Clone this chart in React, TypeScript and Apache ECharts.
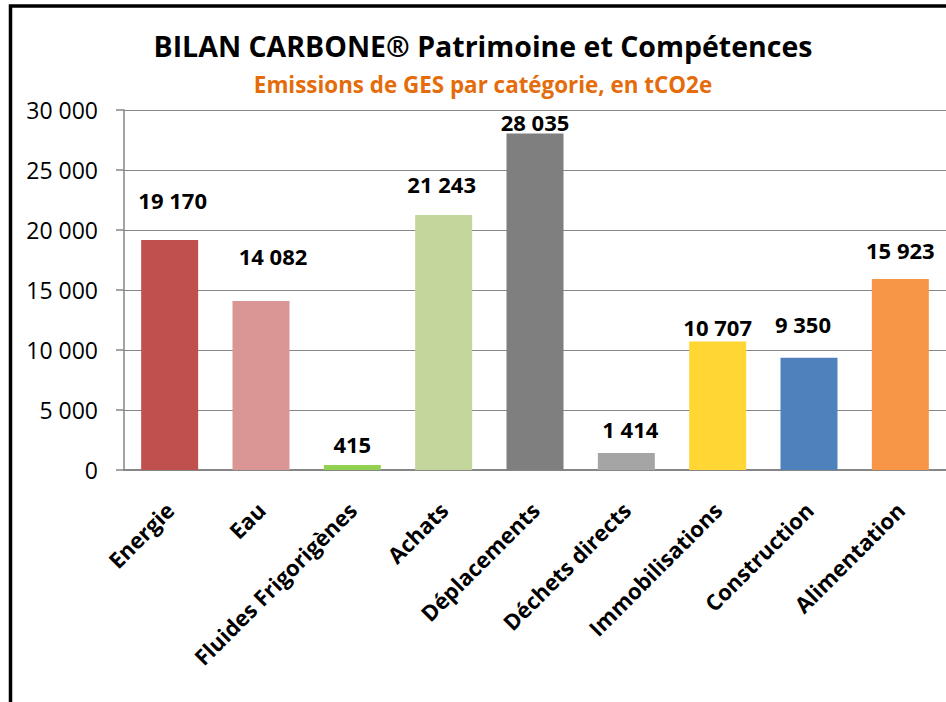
import React, { useEffect, useRef } from "react";
import * as echarts from "echarts";

const categories = [
  "Energie",
  "Eau",
  "Fluides Frigorigènes",
  "Achats",
  "Déplacements",
  "Déchets directs",
  "Immobilisations",
  "Construction",
  "Alimentation",
];
const values = [19170, 14082, 415, 21243, 28035, 1414, 10707, 9350, 15923];
const barColors = [
  "#C0504D",
  "#D99694",
  "#92D050",
  "#C3D69B",
  "#7F7F7F",
  "#A5A5A5",
  "#FFD633",
  "#4F81BD",
  "#F79646",
];
// manual label placement (as positioned in the original chart)
const labelOffsets: [number, number][] = [
  [3, -29],
  [12, -34],
  [0, -10],
  [-2, -20],
  [0, -1],
  [4, -13],
  [0, -4],
  [-6, -23],
  [0, -18],
];

const titleText = "BILAN CARBONE® Patrimoine et Compétences";
const subtitleText = "Emissions de GES par catégorie, en tCO2e";

const fmt = (v: number) =>
  String(Math.round(v)).replace(/\B(?=(\d{3})+(?!\d))/g, " ");

export default function App() {
  const ref = useRef<HTMLDivElement>(null);
  useEffect(() => {
    document.body.style.margin = "0";
    const chart = echarts.init(ref.current!, null, { renderer: "svg" });
    const font = "'Open Sans', sans-serif";
    chart.setOption({
      animation: false,
      backgroundColor: "#ffffff",
      textStyle: { fontFamily: font },
      title: [
        {
          text: titleText,
          left: 478,
          top: 26,
          textAlign: "center",
          textStyle: {
            fontFamily: font,
            fontWeight: "bold",
            fontSize: 28.5,
            color: "#000000",
          },
        },
        {
          text: subtitleText,
          left: 478,
          top: 68,
          textAlign: "center",
          textStyle: {
            fontFamily: font,
            fontWeight: "bold",
            fontSize: 22.4,
            color: "#E46C0A",
          },
        },
      ],
      graphic: [
        {
          type: "rect",
          shape: { x: 10.5, y: 6, width: 1000, height: 1000 },
          style: { fill: "none", stroke: "#000000", lineWidth: 3.5 },
          silent: true,
        },
      ],
      grid: { left: 124, right: 0, top: 110, bottom: 232 },
      xAxis: {
        type: "category",
        data: categories,
        axisLine: { lineStyle: { color: "#868686", width: 2 } },
        axisTick: { length: 7, lineStyle: { color: "#868686", width: 1.5 } },
        axisLabel: {
          rotate: 45,
          margin: 36,
          interval: 0,
          fontFamily: font,
          fontWeight: "bold",
          fontSize: 22,
          color: "#000000",
        },
      },
      yAxis: {
        type: "value",
        min: 0,
        max: 30000,
        interval: 5000,
        axisLine: { show: true, lineStyle: { color: "#868686", width: 1.5 } },
        axisTick: { show: true, length: 8, lineStyle: { color: "#868686", width: 1.5 } },
        splitLine: { lineStyle: { color: "#868686", width: 1.2 } },
        axisLabel: {
          margin: 26,
          fontFamily: font,
          fontSize: 23,
          color: "#000000",
          formatter: (v: number) => fmt(v),
        },
      },
      series: [
        {
          type: "bar",
          barWidth: 57,
          data: values.map((v, i) => ({
            value: v,
            itemStyle: { color: barColors[i] },
            label: { offset: labelOffsets[i] },
          })),
          label: {
            show: true,
            position: "top",
            distance: 0,
            fontFamily: font,
            fontWeight: "bold",
            fontSize: 22,
            lineHeight: 22,
            color: "#000000",
            formatter: (p: any) => fmt(p.value),
          },
        },
      ],
    });
    return () => chart.dispose();
  }, []);
  return <div ref={ref} style={{ width: 946, height: 702 }} />;
}
